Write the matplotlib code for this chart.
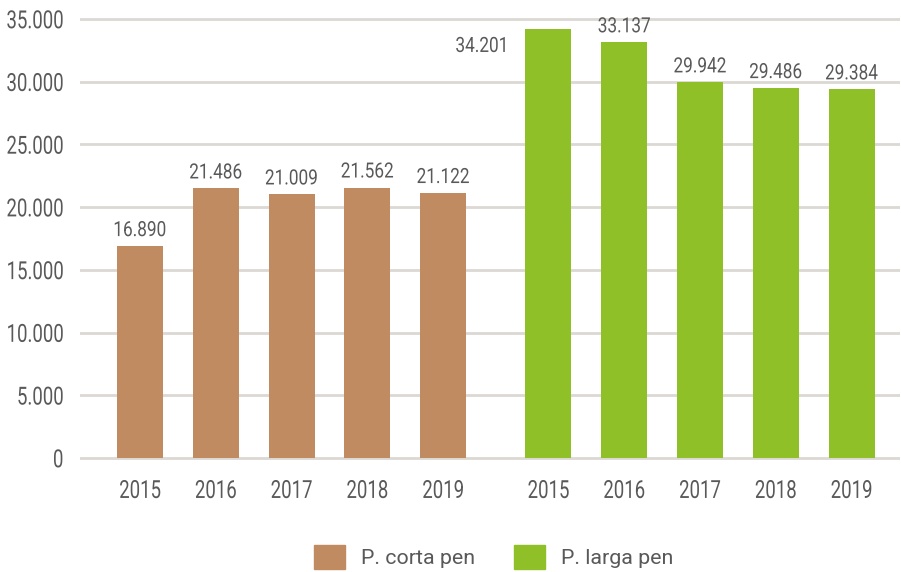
import numpy as np
import matplotlib.pyplot as plt
from matplotlib.patches import Patch
from matplotlib.transforms import Affine2D
import matplotlib.patheffects as pe

plt.rcParams['font.family'] = ['Roboto', 'DejaVu Sans']

years = ['2015', '2016', '2017', '2018', '2019']
corta = [16890, 21486, 21009, 21562, 21122]
larga = [34201, 33137, 29942, 29486, 29384]
series_names = ['P. corta pen', 'P. larga pen']

brown = '#c08b60'
green = '#8fc028'
text_col = '#595959'
grid_col = '#dcd8d4'


class Tall(pe.AbstractPathEffect):
    # stretches the glyphs vertically to imitate a condensed typeface
    def __init__(self, sy, anchor='center'):
        super().__init__()
        self.sy = sy
        self.anchor = anchor

    def draw_path(self, renderer, gc, tpath, affine, rgbFace=None):
        ext = affine.transform_path(tpath).get_extents()
        y0 = ext.y0 if self.anchor == 'bottom' else 0.5 * (ext.y0 + ext.y1)
        aff = affine + Affine2D().translate(0, -y0).scale(1, self.sy).translate(0, y0)
        renderer.draw_path(gc, tpath, aff, rgbFace)


def fmt(v):
    return '{:,}'.format(v).replace(',', '.')


fig = plt.figure(figsize=(9.01, 5.72), dpi=100)
ax = fig.add_axes([80 / 901, 112.1 / 572, 820 / 901, 442.8 / 572])

x1 = np.arange(len(years))
x2 = x1 + 5.39
w = 0.607

ax.bar(x1, corta, width=w, color=brown, zorder=3)
ax.bar(x2, larga, width=w, color=green, zorder=3)

fs_lab = 12.4
sy_lab = 1.22
for x, v in zip(x1, corta):
    ax.annotate(fmt(v), (x, v), xytext=(0, 10), textcoords='offset pixels',
                ha='center', va='baseline', fontsize=fs_lab, color=text_col,
                path_effects=[Tall(sy_lab, 'bottom')])
for i, (x, v) in enumerate(zip(x2, larga)):
    if i == 0:
        ax.annotate(fmt(v), (x - w / 2, v), xytext=(-17, -23), textcoords='offset pixels',
                    ha='right', va='baseline', fontsize=fs_lab, color=text_col,
                    path_effects=[Tall(sy_lab, 'bottom')])
    else:
        ax.annotate(fmt(v), (x, v), xytext=(0, 10), textcoords='offset pixels',
                    ha='center', va='baseline', fontsize=fs_lab, color=text_col,
                    path_effects=[Tall(sy_lab, 'bottom')])

ax.set_xlim(-0.792, 10.03)
ax.set_ylim(-150, 35150)
ticks = np.arange(0, 35001, 5000)
ax.set_yticks(ticks)
ax.set_yticklabels([fmt(t) for t in ticks])
ax.set_xticks(list(x1) + list(x2))
ax.set_xticklabels(years + years)
ax.tick_params(axis='both', length=0, labelsize=13.4, colors=text_col)
ax.tick_params(axis='x', pad=15.7)
ax.tick_params(axis='y', pad=12)
for lbl in ax.get_yticklabels() + ax.get_xticklabels():
    lbl.set_path_effects([Tall(1.34)])
ax.yaxis.grid(True, color=grid_col, linewidth=2, zorder=0)
for s in ax.spines.values():
    s.set_visible(False)

handles = [Patch(color=brown), Patch(color=green)]
leg = fig.legend(handles, series_names, loc='center left', bbox_to_anchor=(314 / 901, 1 - 557 / 572),
                 ncol=2, frameon=False, fontsize=15.4, labelcolor=text_col,
                 borderpad=0, borderaxespad=0,
                 handlelength=1.45, handleheight=1.36, handletextpad=0.75, columnspacing=1.82)

fig.savefig('out.png', dpi=100)
